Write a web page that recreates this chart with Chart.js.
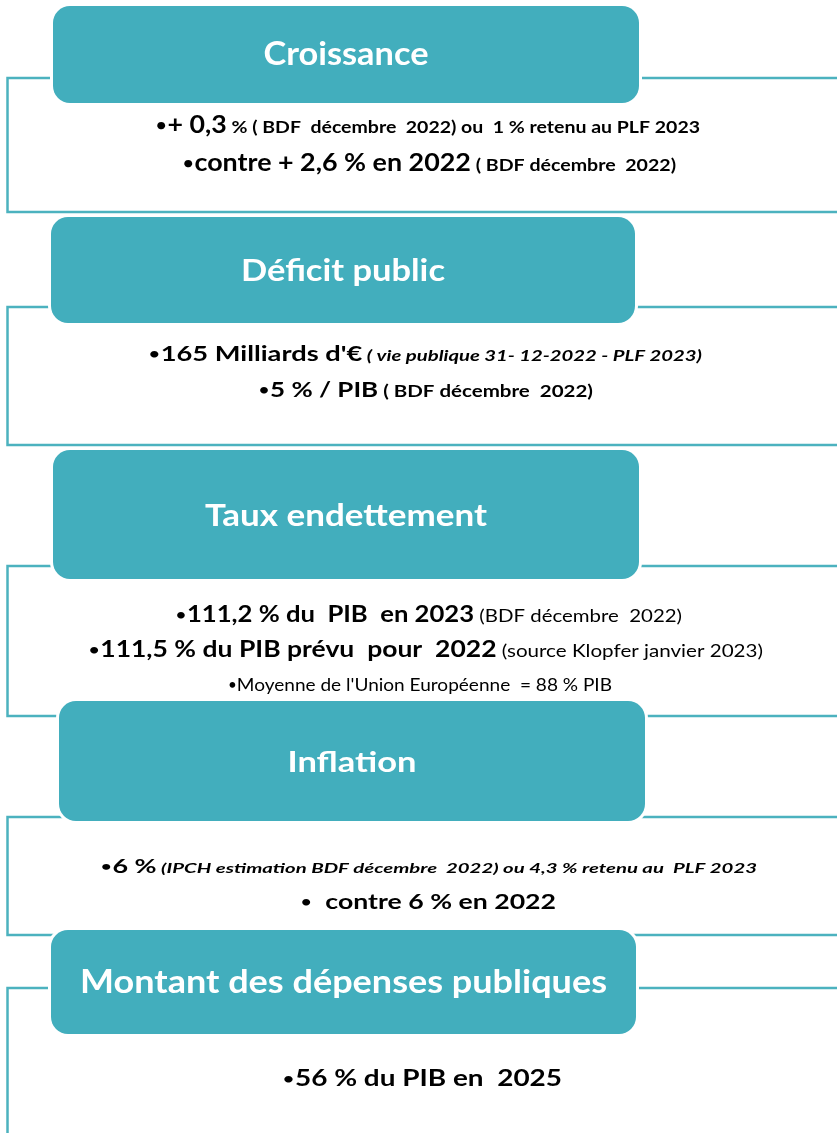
<!DOCTYPE html>
<html>
<head>
<meta charset="utf-8">
<script src="https://cdn.jsdelivr.net/npm/chart.js@4"></script>
<style>
    body {
        margin: 0;
        background-color: white;
    }
    #cadre {
        width: 837px;
        height: 1133px;
        position: relative;
    }
</style>
</head>
<body>
<div id="cadre">
    <canvas id="schema"></canvas>
</div>

<script>
    // les donnees : titres des rubriques et textes (chaque ligne = morceaux de texte)
    const titres = ["Croissance", "Déficit public", "Taux endettement", "Inflation", "Montant des dépenses publiques"];
    const textes = [
        [["•+ 0,3", " % ( BDF  décembre  2022) ou  1 % retenu au PLF 2023"],
         ["•contre + 2,6 % en 2022", " ( BDF décembre  2022)"]],
        [["•165 Milliards d'€", " ( vie publique 31- 12-2022 - PLF 2023)"],
         ["•5 % / PIB", " ( BDF décembre  2022)"]],
        [["•111,2 % du  PIB  en 2023", " (BDF décembre  2022)"],
         ["•111,5 % du PIB prévu  pour  2022", " (source Klopfer janvier 2023)"],
         ["•Moyenne de l'Union Européenne  = 88 % PIB"]],
        [["•6 %", " (IPCH estimation BDF décembre  2022) ou 4,3 % retenu au  PLF 2023"],
         ["•  contre 6 % en 2022"]],
        [["•56 % du PIB en  2025"]]
    ];

    // mise en page (coordonnees de la page, en px)
    const boites = [
        {x0: 53, x1: 639, y0: 6, y1: 103},
        {x0: 51, x1: 635, y0: 217, y1: 323},
        {x0: 53, x1: 639, y0: 450, y1: 579},
        {x0: 59, x1: 645, y0: 701, y1: 821},
        {x0: 51, x1: 636, y0: 930, y1: 1034}
    ];
    const crochets = [
        {haut: 78, bas: 212},
        {haut: 307, bas: 445},
        {haut: 566, bas: 716},
        {haut: 817, bas: 935},
        {haut: 988, bas: null}
    ];
    const titreStyle = [
        {base: 65, taille: 32.5, larg: 165},
        {base: 281, taille: 30, larg: 204},
        {base: 526, taille: 29.5, larg: 282},
        {base: 772, taille: 28, larg: 129},
        {base: 993, taille: 31.5, larg: 527}
    ];
    // police de chaque morceau : [style, taille]
    const lignesStyle = [
        [{base: 133, x0: 155, x1: 700, f: [["bold", 24], ["bold", 17.5]]},
         {base: 171, x0: 182, x1: 676, f: [["bold", 24], ["bold", 17.5]]}],
        [{base: 361, x0: 148, x1: 702, f: [["bold", 21.5], ["italic bold", 16]]},
         {base: 397, x0: 258, x1: 593, f: [["bold", 21.5], ["bold", 17]]}],
        [{base: 622, x0: 175, x1: 682, f: [["bold", 22], ["normal", 17.5]]},
         {base: 657, x0: 88, x1: 763, f: [["bold", 22.5], ["normal", 17.5]]},
         {base: 691, x0: 228, x1: 612, f: [["normal", 18]]}],
        [{base: 873, x0: 100, x1: 757, f: [["bold", 18.5], ["italic bold", 14]]},
         {base: 909, x0: 300, x1: 556, f: [["bold", 21.5]]}],
        [{base: 1086, x0: 282, x1: 562, f: [["bold", 22]]}]
    ];
    const teal = "#42aebd";
    const trait = "#4cb2bf";
    const police = "Lato, 'Open Sans', sans-serif";

    function rondRect(ctx, x, y, w, h, r){
        ctx.beginPath();
        ctx.moveTo(x + r, y);
        ctx.arcTo(x + w, y, x + w, y + h, r);
        ctx.arcTo(x + w, y + h, x, y + h, r);
        ctx.arcTo(x, y + h, x, y, r);
        ctx.arcTo(x, y, x + w, y, r);
        ctx.closePath();
    }

    // decoupe un morceau : la puce est ecrite plus petite
    function morceaux(m, style, taille){
        if(m.charAt(0) == "•"){
            return [["•", "normal " + (taille * 0.8) + "px " + police, -taille * 0.05],
                    [m.substring(1), style + " " + taille + "px " + police, 0]];
        }
        return [[m, style + " " + taille + "px " + police, 0]];
    }

    const schemaPlugin = {
        id: "schema",
        afterDraw(chart){
            const ctx = chart.ctx;
            const sx = chart.scales.x, sy = chart.scales.y;
            const px = v => sx.getPixelForValue(v);
            const py = v => sy.getPixelForValue(v);
            const gauche = px(7.5), droite = px(837);

            ctx.save();
            // les crochets
            ctx.strokeStyle = trait;
            ctx.lineWidth = 2.5;
            crochets.forEach(function(c){
                ctx.beginPath();
                ctx.moveTo(droite, py(c.haut));
                ctx.lineTo(gauche, py(c.haut));
                ctx.lineTo(gauche, c.bas === null ? py(1133) : py(c.bas));
                if(c.bas !== null) ctx.lineTo(droite, py(c.bas));
                ctx.stroke();
            });

            // les boites des titres
            boites.forEach(function(b, i){
                const x = px(b.x0), y = py(b.y0), w = px(b.x1) - x, h = py(b.y1) - y;
                rondRect(ctx, x, y, w, h, 17);
                ctx.lineWidth = 6;
                ctx.strokeStyle = "white";
                ctx.stroke();
                ctx.fillStyle = teal;
                ctx.fill();

                const t = titreStyle[i];
                ctx.font = "bold " + t.taille + "px " + police;
                const nat = ctx.measureText(titres[i]).width;
                const cx = (x + x + w) / 2;
                ctx.save();
                ctx.translate(cx, py(t.base));
                ctx.scale(t.larg / nat, 1);
                ctx.fillStyle = "white";
                ctx.textAlign = "center";
                ctx.textBaseline = "alphabetic";
                ctx.fillText(titres[i], 0, 0);
                ctx.restore();
            });

            // les textes
            ctx.fillStyle = "black";
            ctx.textAlign = "left";
            ctx.textBaseline = "alphabetic";
            textes.forEach(function(sec, i){
                sec.forEach(function(ligne, j){
                    const st = lignesStyle[i][j];
                    let parts = [];
                    ligne.forEach(function(m, k){
                        parts = parts.concat(morceaux(m, st.f[k][0], st.f[k][1]));
                    });
                    let nat = 0;
                    parts.forEach(function(p){
                        ctx.font = p[1];
                        nat += ctx.measureText(p[0]).width;
                    });
                    const x0 = px(st.x0), larg = px(st.x1) - x0;
                    ctx.save();
                    ctx.translate(x0, py(st.base));
                    ctx.scale(larg / nat, 1);
                    let pos = 0;
                    parts.forEach(function(p){
                        ctx.font = p[1];
                        ctx.fillText(p[0], pos, p[2]);
                        pos += ctx.measureText(p[0]).width;
                    });
                    ctx.restore();
                });
            });
            ctx.restore();
        }
    };

    new Chart("schema", {
        type: "scatter",
        data: { datasets: [] },
        options: {
            responsive: true,
            maintainAspectRatio: false,
            animation: false,
            layout: { padding: 0 },
            scales: {
                x: { type: "linear", min: 0, max: 837, display: false },
                y: { type: "linear", min: 0, max: 1133, reverse: true, display: false }
            },
            plugins: {
                legend: { display: false },
                tooltip: { enabled: false }
            }
        },
        plugins: [schemaPlugin]
    });
</script>
</body>
</html>
